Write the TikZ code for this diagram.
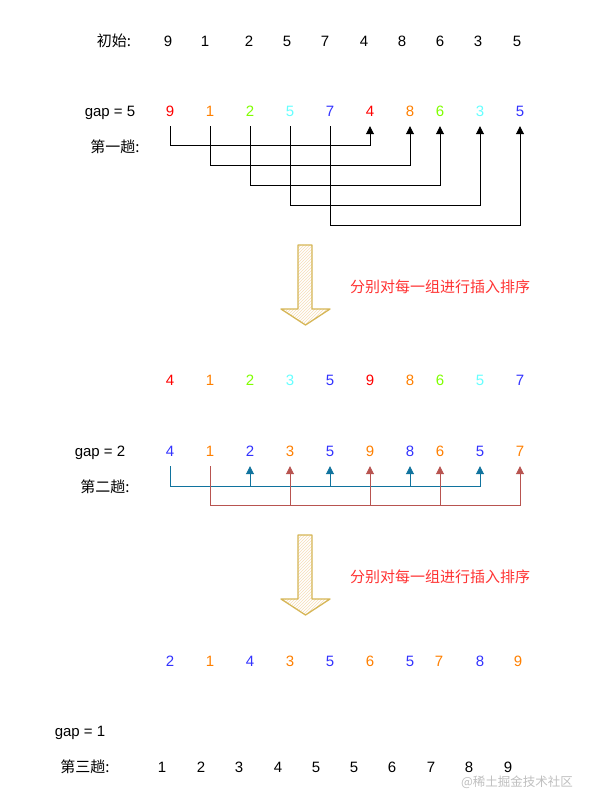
\documentclass[tikz,border=0pt]{standalone}
\usepackage{fontspec}
\setmainfont{Liberation Sans}
\newfontfamily\cjk{Noto Sans CJK SC}
\usetikzlibrary{arrows.meta,patterns}
\definecolor{cR}{HTML}{FF0000}
\definecolor{cO}{HTML}{FF8000}
\definecolor{cG}{HTML}{80FF00}
\definecolor{cC}{HTML}{66FFFF}
\definecolor{cB}{HTML}{3333FF}
\definecolor{lnB}{HTML}{10739E}
\definecolor{lnR}{HTML}{B85450}
\definecolor{txR}{HTML}{FF3333}
\definecolor{arS}{HTML}{D6B656}
\definecolor{arF}{HTML}{F6DDB8}
\tikzset{
  txt/.style={inner sep=0pt, font=\fontsize{15}{15}\selectfont, text height=10.7pt, text depth=0pt},
  dig/.style={txt, minimum height=30pt},
  lab/.style={txt, font=\fontsize{15}{15}\cjk},
  conn/.style={line width=0.9pt, -{Triangle[length=8pt,width=8pt]}},
  blk/.style={draw=arS, line width=1.3pt, line join=round, preaction={fill=white}, pattern=north east lines, pattern color=arF},
  note/.style={txt, text=txR, font=\fontsize{15}{15}\cjk},
}
\begin{document}
\begin{tikzpicture}[x=1pt,y=-1pt]
\fill[white] (0,0) rectangle (592,807);
\useasboundingbox (0,0) rectangle (592,807);

% row 1
\node[lab] (l1) at (114,41) {初始:};
\foreach \v/\x [count=\i] in {9/168,1/205,2/249,5/287,7/325,4/364,8/402,6/440,3/478,5/517}
  \node[dig] (r1-\i) at (\x,41) {\v};

% row 2
\node[txt] (g5) at (110,111) {gap = 5};
\node[lab] (t1) at (115,147) {第一趟:};
\foreach \v/\x/\c [count=\i] in {9/170/cR,1/210/cO,2/250/cG,5/290/cC,7/330/cB,4/370/cR,8/410/cO,6/440/cG,3/480/cC,5/520/cB}
  \node[dig,text=\c] (r2-\i) at (\x,111) {\v};
\coordinate (h1) at (0,145);
\coordinate (h2) at (0,165);
\coordinate (h3) at (0,185);
\coordinate (h4) at (0,205);
\coordinate (h5) at (0,225);
\draw[conn] (r2-1.south) -- (r2-1.south |- h1) -- (r2-6.south |- h1) -- (r2-6.south);
\draw[conn] (r2-2.south) -- (r2-2.south |- h2) -- (r2-7.south |- h2) -- (r2-7.south);
\draw[conn] (r2-3.south) -- (r2-3.south |- h3) -- (r2-8.south |- h3) -- (r2-8.south);
\draw[conn] (r2-4.south) -- (r2-4.south |- h4) -- (r2-9.south |- h4) -- (r2-9.south);
\draw[conn] (r2-5.south) -- (r2-5.south |- h5) -- (r2-10.south |- h5) -- (r2-10.south);

% arrow 1
\draw[blk] (298,245) -- (312,245) -- (312,309) -- (330,309) -- (305.5,325) -- (281,309) -- (298,309) -- cycle;
\node[note] (n1) at (440,287) {分别对每一组进行插入排序};

% row 3
\foreach \v/\x/\c [count=\i] in {4/170/cR,1/210/cO,2/250/cG,3/290/cC,5/330/cB,9/370/cR,8/410/cO,6/440/cG,5/480/cC,7/520/cB}
  \node[dig,text=\c] (r3-\i) at (\x,380) {\v};

% row 4
\node[txt] (g2) at (100,451) {gap = 2};
\node[lab] (t2) at (105,487) {第二趟:};
\foreach \v/\x/\c [count=\i] in {4/170/cB,1/210/cO,2/250/cB,3/290/cO,5/330/cB,9/370/cO,8/410/cB,6/440/cO,5/480/cB,7/520/cO}
  \node[dig,text=\c] (r4-\i) at (\x,451) {\v};
\coordinate (hb) at (0,486);
\coordinate (hr) at (0,505);
\draw[conn,draw=lnB,-{Triangle[length=8pt,width=8pt,fill=lnB]}] (r4-1.south) -- (r4-1.south |- hb) -- (r4-9.south |- hb) -- (r4-9.south);
\foreach \j in {3,5,7}
  \draw[conn,draw=lnB,-{Triangle[length=8pt,width=8pt,fill=lnB]}] (r4-\j.south |- hb) -- (r4-\j.south);
\draw[conn,draw=lnR,-{Triangle[length=8pt,width=8pt,fill=lnR]}] (r4-2.south) -- (r4-2.south |- hr) -- (r4-10.south |- hr) -- (r4-10.south);
\foreach \j in {4,6,8}
  \draw[conn,draw=lnR,-{Triangle[length=8pt,width=8pt,fill=lnR]}] (r4-\j.south |- hr) -- (r4-\j.south);

% arrow 2
\draw[blk] (298,535) -- (312,535) -- (312,599) -- (330,599) -- (305.5,615) -- (281,599) -- (298,599) -- cycle;
\node[note] (n2) at (440,577) {分别对每一组进行插入排序};

% row 5
\foreach \v/\x/\c [count=\i] in {2/170/cB,1/210/cO,4/250/cB,3/290/cO,5/330/cB,6/370/cO,5/410/cB,7/439/cO,8/480/cB,9/518/cO}
  \node[dig,text=\c] (r5-\i) at (\x,661) {\v};

% row 6
\node[txt] (g1) at (80,731) {gap = 1};
\node[lab] (t3) at (85,767) {第三趟:};
\foreach \v/\x [count=\i] in {1/162,2/201,3/239,4/278,5/316,5/354,6/392,7/431,8/469,9/508}
  \node[dig] (r6-\i) at (\x,767) {\v};

\node[txt, font=\fontsize{12.5}{12.5}\cjk, text=black!25] (wm) at (517,781) {@稀土掘金技术社区};
\end{tikzpicture}
\end{document}
